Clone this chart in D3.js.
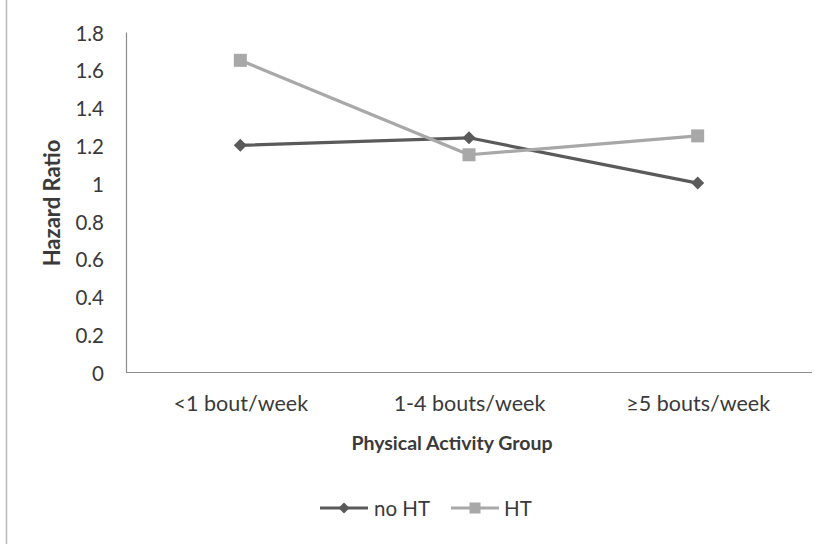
<!DOCTYPE html>
<html>
<head>
<meta charset="utf-8">
<script src="https://cdn.jsdelivr.net/npm/d3@7"></script>
<style>
  html, body { margin: 0; padding: 0; background: #fff; }
  svg { display: block; }
  text { font-family: Lato, "Open Sans", sans-serif; fill: #3a3a3a; }
</style>
</head>
<body>
<svg id="chart" width="830" height="544"></svg>
<script>
// Physical activity groups and hazard ratios by hormone therapy status
const categories = ["<1 bout/week", "1-4 bouts/week", "\u22655 bouts/week"];
const noHT = [1.2, 1.24, 1.0];
const HT = [1.65, 1.15, 1.25];
const yTicks = [0, 0.2, 0.4, 0.6, 0.8, 1, 1.2, 1.4, 1.6, 1.8];
const seriesNames = ["no HT", "HT"];

const series = [
  { name: seriesNames[0], values: noHT, color: "#5a5a5a", marker: "diamond" },
  { name: seriesNames[1], values: HT, color: "#a8a8a8", marker: "square" }
];

const svg = d3.select("#chart");
const margin = { left: 126, right: 18, top: 32, bottom: 172 };
const W = 830, H = 544;
const plotW = W - margin.left - margin.right;
const plotH = H - margin.top - margin.bottom;

// outer frame edge on the left
svg.append("line")
  .attr("x1", 6.5).attr("x2", 6.5).attr("y1", 0).attr("y2", H)
  .attr("stroke", "#b8b8b8").attr("stroke-width", 1.5);

const g = svg.append("g").attr("transform", `translate(${margin.left},${margin.top})`);

const x = d3.scalePoint().domain(categories).range([0, plotW]).padding(0.5);
const y = d3.scaleLinear().domain([0, 1.8]).range([plotH, 0]);

// y axis: labels only, plus the axis line
const yAxis = d3.axisLeft(y).tickValues(yTicks).tickSize(0).tickPadding(22)
  .tickFormat(d => d3.format("~g")(d));
const ya = g.append("g").call(yAxis);
ya.select(".domain").attr("stroke", "#8c8c8c").attr("stroke-width", 1.2);
ya.selectAll("text").attr("font-size", 20.5).attr("fill", "#3a3a3a")
  .attr("font-family", "Lato, sans-serif").attr("dy", "0.4em");

// x axis line and category labels
const xAxis = d3.axisBottom(x).tickSize(0).tickPadding(24);
const xa = g.append("g").attr("transform", `translate(0,${plotH})`).call(xAxis);
xa.select(".domain").attr("d", `M0,0.5H${plotW}`).attr("stroke", "#8c8c8c").attr("stroke-width", 1.2);
xa.selectAll("text").attr("font-size", 21.5).attr("fill", "#3a3a3a")
  .attr("font-family", "Lato, sans-serif");

// axis titles
svg.append("text")
  .attr("transform", `translate(60,${margin.top + plotH / 2 + 1}) rotate(-90)`)
  .attr("text-anchor", "middle")
  .attr("font-size", 22).attr("font-weight", "bold").attr("fill", "#1a1a1a")
  .text("Hazard Ratio");

svg.append("text")
  .attr("x", 452).attr("y", 450)
  .attr("text-anchor", "middle")
  .attr("font-size", 19.5).attr("font-weight", "bold").attr("fill", "#1a1a1a")
  .text("Physical Activity Group");

// markers
function drawMarker(sel, type, color, size) {
  if (type === "diamond") {
    sel.append("path")
      .attr("d", `M0,${-size}L${size},0L0,${size}L${-size},0Z`)
      .attr("fill", color);
  } else {
    sel.append("rect")
      .attr("x", -size).attr("y", -size)
      .attr("width", size * 2).attr("height", size * 2)
      .attr("fill", color);
  }
}

const line = d3.line()
  .x((d, i) => x(categories[i]))
  .y(d => y(d));

series.forEach(s => {
  g.append("path")
    .datum(s.values)
    .attr("d", line)
    .attr("fill", "none")
    .attr("stroke", s.color)
    .attr("stroke-width", 3.2)
    .attr("stroke-linejoin", "round");
  s.values.forEach((v, i) => {
    const m = g.append("g").attr("transform", `translate(${x(categories[i])},${y(v)})`);
    drawMarker(m, s.marker, s.color, 6.5);
  });
});

// legend
const legendY = 508;
const legendItems = [
  { s: series[0], x0: 320, tx: 374 },
  { s: series[1], x0: 451, tx: 504 }
];
legendItems.forEach(li => {
  const lg = svg.append("g");
  lg.append("line")
    .attr("x1", li.x0).attr("x2", li.x0 + 48)
    .attr("y1", legendY).attr("y2", legendY)
    .attr("stroke", li.s.color).attr("stroke-width", 3);
  const m = lg.append("g").attr("transform", `translate(${li.x0 + 24},${legendY})`);
  drawMarker(m, li.s.marker, li.s.color, 5.5);
  lg.append("text")
    .attr("x", li.tx).attr("y", legendY + 7.5)
    .attr("font-size", 20.5).attr("fill", "#3a3a3a")
    .text(li.s.name);
});
</script>
</body>
</html>
